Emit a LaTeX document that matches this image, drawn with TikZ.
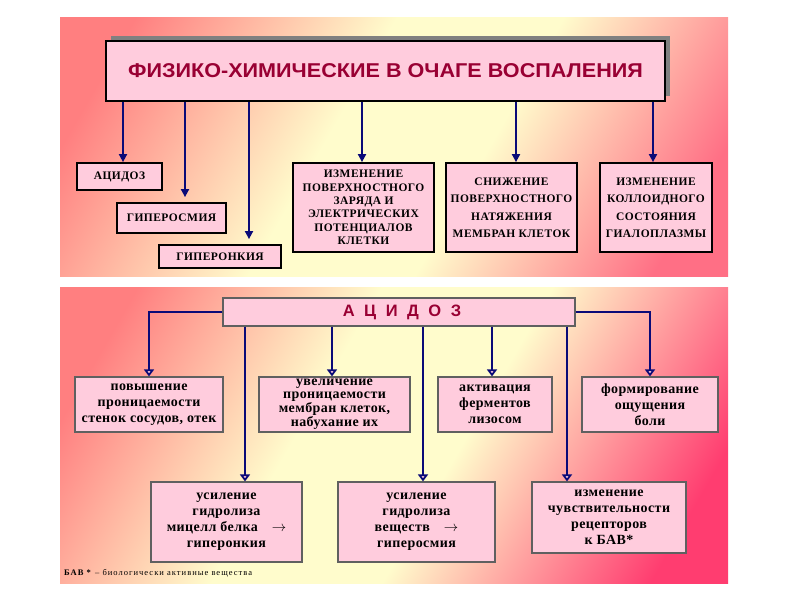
\documentclass[tikz,border=0pt]{standalone}
\usepackage{fontspec}
\setmainfont{Liberation Serif}
\newfontfamily\headfont{Liberation Sans}
\usetikzlibrary{positioning,arrows.meta,shadows}
\definecolor{boxpink}{HTML}{FFCCDD}
\definecolor{headred}{HTML}{990033}
\definecolor{arrowblue}{HTML}{0A0A78}
\definecolor{boxedge}{HTML}{606060}
\definecolor{bgred}{HTML}{FF7F80}
\definecolor{bgcream}{HTML}{FFFCCC}
\definecolor{bgrose}{HTML}{FF6F85}
\definecolor{bgdeep}{HTML}{FF3D70}
% panel backgrounds: red corner, wide cream band, pink corner
\pgfdeclareverticalshading{uppanel}{100bp}{color(0bp)=(bgrose); color(22bp)=(bgrose);
  color(42bp)=(bgcream); color(56bp)=(bgcream); color(78bp)=(bgred); color(100bp)=(bgred)}
\pgfdeclareverticalshading{lowpanel}{100bp}{color(0bp)=(bgdeep); color(22bp)=(bgdeep);
  color(44bp)=(bgcream); color(58bp)=(bgcream); color(78bp)=(bgred); color(100bp)=(bgred)}

\tikzset{
  capbox/.style={draw=black,line width=1.8pt,fill=boxpink,align=center,inner sep=1pt,
    font=\bfseries\fontsize{11.5}{13.4}\selectfont\addfontfeature{LetterSpace=4}},
  lowbox/.style={draw=boxedge,line width=1.2pt,fill=boxpink,align=center,inner sep=1pt,
    font=\bfseries\fontsize{14}{16}\selectfont\addfontfeature{LetterSpace=3}},
  arr/.style={arrowblue,line width=1.8pt,-{Triangle[length=8pt,width=8pt]}},
  oarr/.style={arrowblue,line width=1.8pt,-{Triangle[open,length=7pt,width=10pt,fill=boxpink]}}
}

\begin{document}
\begin{tikzpicture}[x=1pt,y=-1pt]
  \useasboundingbox (0,0) rectangle (800,600);
  \fill[white] (0,0) rectangle (800,600);
  % panels
  \shade[shading=uppanel,shading angle=60] (60,17) rectangle (728,276);
  \shade[shading=lowpanel,shading angle=60] (60,287) rectangle (728,583);

  % upper scheme
  \node[draw=black,line width=2.5pt,fill=boxpink,minimum width=559pt,minimum height=60pt,
    general shadow={fill=gray,shadow xshift=5pt,shadow yshift=5pt},
    text=headred,font=\headfont\bfseries\fontsize{20}{22}\selectfont\addfontfeature{FakeStretch=1.08}] (title) at (385.5,71)
    {ФИЗИКО-ХИМИЧЕСКИЕ В ОЧАГЕ ВОСПАЛЕНИЯ};
  \node[capbox,minimum width=85pt,minimum height=27pt] (acid) at (119.5,176.5) {АЦИДОЗ};
  \node[capbox,minimum width=109pt,minimum height=30pt] (gos) at (171.5,218) {ГИПЕРОСМИЯ};
  \node[capbox,minimum width=122pt,minimum height=23pt] (gon) at (220,256.5) {ГИПЕРОНКИЯ};
  \node[capbox,minimum width=141pt,minimum height=89pt] (zar) at (363.5,207.5)
    {ИЗМЕНЕНИЕ\\ПОВЕРХНОСТНОГО\\ЗАРЯДА И\\ЭЛЕКТРИЧЕСКИХ\\ПОТЕНЦИАЛОВ\\КЛЕТКИ};
  \node[capbox,minimum width=131pt,minimum height=89pt,font=\bfseries\fontsize{11.5}{17.5}\selectfont\addfontfeature{LetterSpace=4}] (nat) at (511.5,207.5)
    {СНИЖЕНИЕ\\ПОВЕРХНОСТНОГО\\НАТЯЖЕНИЯ\\МЕМБРАН КЛЕТОК};
  \node[capbox,minimum width=112pt,minimum height=89pt,font=\bfseries\fontsize{11.5}{17.5}\selectfont\addfontfeature{LetterSpace=4}] (koll) at (656,207.5)
    {ИЗМЕНЕНИЕ\\КОЛЛОИДНОГО\\СОСТОЯНИЯ\\ГИАЛОПЛАЗМЫ};

  \foreach \c/\x in {ta/123,tb/185,tc/249,td/362,te/516,tf/653}
    \coordinate (\c) at (\x,0);
  \draw[arr] (title.south -| ta) -- (acid.north -| ta);
  \draw[arr,shorten >=5pt] (title.south -| tb) -- (gos.north -| tb);
  \draw[arr,shorten >=5pt] (title.south -| tc) -- (gon.north -| tc);
  \draw[arr] (title.south -| td) -- (zar.north -| td);
  \draw[arr] (title.south -| te) -- (nat.north -| te);
  \draw[arr] (title.south -| tf) -- (koll.north -| tf);

  % lower scheme
  \node[draw=boxedge,line width=1.2pt,fill=boxpink,minimum width=352pt,minimum height=28pt,
    text=headred,font=\headfont\bfseries\fontsize{16.5}{18}\selectfont\addfontfeature{LetterSpace=30}] (aci) at (399,312)
    {\hspace{6pt}А Ц И Д О З};
  \node[lowbox,minimum width=148pt,minimum height=55pt] (pov) at (149,404.5)
    {повышение\\проницаемости\\стенок сосудов, отек};
  \node[lowbox,minimum width=151pt,minimum height=55pt,font=\bfseries\fontsize{14}{13}\selectfont\addfontfeature{LetterSpace=3}] (uvel) at (334.5,404.5)
    {увеличение\\проницаемости\\мембран клеток,\\набухание их};
  \node[lowbox,minimum width=114pt,minimum height=55pt] (akt) at (495,404.5)
    {активация\\ферментов\\лизосом};
  \node[lowbox,minimum width=136pt,minimum height=55pt] (form) at (650,404.5)
    {формирование\\ощущения\\боли};
  \node[lowbox,minimum width=151pt,minimum height=80pt] (gidr) at (226.5,522)
    {усиление\\гидролиза\\мицелл белка\quad$\rightarrow$\\гиперонкия};
  \node[lowbox,minimum width=157pt,minimum height=80pt] (ves) at (416.5,522)
    {усиление\\гидролиза\\веществ\quad$\rightarrow$\\гиперосмия};
  \node[lowbox,minimum width=154pt,minimum height=71pt] (chuv) at (609,517.5)
    {изменение\\чувствительности\\рецепторов\\к БАВ*};

  \draw[oarr] (aci.west) -| (pov.north);
  \draw[oarr] (aci.east) -| (form.north);
  \foreach \c/\x in {ba/245,bb/332,bc/423,bd/492,be/567}
    \coordinate (\c) at (\x,0);
  \draw[oarr] (aci.south -| ba) -- (gidr.north -| ba);
  \draw[oarr] (aci.south -| bb) -- (uvel.north -| bb);
  \draw[oarr] (aci.south -| bc) -- (ves.north -| bc);
  \draw[oarr] (aci.south -| bd) -- (akt.north -| bd);
  \draw[oarr] (aci.south -| be) -- (chuv.north -| be);

  \node[anchor=west,inner sep=0pt,font=\fontsize{8.5}{10}\selectfont\addfontfeature{LetterSpace=12}] (note) at (64,573)
    {\textbf{БАВ *} – биологически активные вещества};
\end{tikzpicture}
\end{document}
